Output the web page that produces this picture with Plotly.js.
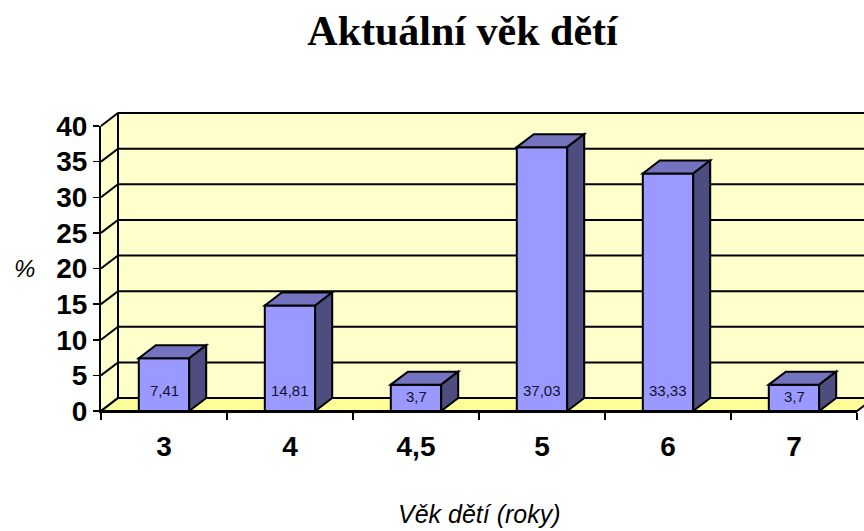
<!DOCTYPE html>
<html><head><meta charset="utf-8">
<script src="https://cdn.plot.ly/plotly-3.0.1.min.js"></script>
<style>html,body{margin:0;padding:0;background:#fff}</style>
</head><body><div id="chart" style="width:864px;height:531px"></div>
<script>
// ---- data ----
const categories = ["3", "4", "4,5", "5", "6", "7"];
const percentValues = [7.41, 14.81, 3.7, 37.03, 33.33, 3.7];
const yTickValues = [0, 5, 10, 15, 20, 25, 30, 35, 40];
const titleText = "Aktuální věk dětí";
const xAxisTitle = "Věk dětí (roky)";
const yAxisTitle = "%";

// ---- layout constants (style) ----
const W = 864, H = 531;
const M = {l: 101, r: 7, t: 126, b: 120};
const PW = W - M.l - M.r, PH = H - M.t - M.b;
const YMAX = 40;
const DX = 17, DY = 13;               // 3D depth in px
const BAR_W = 0.4;
const pxPerCat = PW / categories.length;
const pxPerUnit = PH / YMAX;
const hw = BAR_W / 2 * pxPerCat;
const DYu = DY / pxPerUnit;            // depth in data units (y)
const xIdx = categories.map((c, i) => i);

const shapes = [];
const blackLine = {color: '#000', width: 2};
// left side wall
shapes.push({type: 'path', xref: 'paper', yref: 'paper', xsizemode: 'pixel', ysizemode: 'pixel',
  xanchor: 0, yanchor: 0, layer: 'below', fillcolor: '#ffffcc', line: {width: 0},
  path: `M0,0 L${DX},${DY} L${DX},${PH + DY} L0,${PH} Z`});
// back wall
shapes.push({type: 'path', xref: 'paper', yref: 'paper', xsizemode: 'pixel', ysizemode: 'pixel',
  xanchor: 0, yanchor: 0, layer: 'below', fillcolor: '#ffffcc', line: {width: 0},
  path: `M${DX},${DY} L${PW + 200},${DY} L${PW + 200},${PH + DY} L${DX},${PH + DY} Z`});
// floor
shapes.push({type: 'path', xref: 'paper', yref: 'paper', xsizemode: 'pixel', ysizemode: 'pixel',
  xanchor: 0, yanchor: 0, layer: 'below', fillcolor: '#ffff99', line: blackLine,
  path: `M0,0 L${DX},${DY} L${PW + DX},${DY} L${PW},0 Z`});
// gridlines (left wall diagonal + back wall horizontal)
yTickValues.forEach(v => {
  shapes.push({type: 'path', xref: 'paper', yref: 'paper', xsizemode: 'pixel', ysizemode: 'pixel',
    xanchor: 0, yanchor: v / YMAX, layer: 'below', fillcolor: 'rgba(0,0,0,0)', line: blackLine,
    path: `M0,0 L${DX},${DY} L${PW + 200},${DY}`});
});
// back corner line
shapes.push({type: 'path', xref: 'paper', yref: 'paper', xsizemode: 'pixel', ysizemode: 'pixel',
  xanchor: 0, yanchor: 0, layer: 'below', fillcolor: 'rgba(0,0,0,0)', line: blackLine,
  path: `M${DX},${DY} L${DX},${PH + DY}`});

// bar top & side faces
percentValues.forEach((v, i) => {
  shapes.push({type: 'path', xref: 'x', yref: 'y', xsizemode: 'pixel', xanchor: i, layer: 'above',
    fillcolor: '#7373bf', line: blackLine,
    path: `M${-hw},${v} L${-hw + DX},${v + DYu} L${hw + DX},${v + DYu} L${hw},${v} Z`});
  shapes.push({type: 'path', xref: 'x', yref: 'y', xsizemode: 'pixel', xanchor: i, layer: 'above',
    fillcolor: '#4d4d80', line: blackLine,
    path: `M${hw},0 L${hw + DX},${DYu} L${hw + DX},${v + DYu} L${hw},${v} Z`});
});

const annotations = [];
percentValues.forEach((v, i) => {
  annotations.push({x: i, y: 0, xref: 'x', yref: 'y', showarrow: false,
    text: String(v).replace('.', ','), yanchor: 'middle', xanchor: 'center',
    yshift: Math.min(21, v * pxPerUnit / 2 + 1),
    font: {family: 'Liberation Sans, Arial, sans-serif', size: 15, color: '#111133'}});
});
annotations.push({xref: 'paper', yref: 'paper', x: 0.5, y: 0, yshift: -103, showarrow: false,
  xanchor: 'center', yanchor: 'middle', text: xAxisTitle,
  font: {family: 'Liberation Sans, Arial, sans-serif', size: 25, style: 'italic', color: '#000'}});
annotations.push({xref: 'paper', yref: 'paper', x: 0, xshift: -77, y: 0.5, showarrow: false,
  xanchor: 'center', yanchor: 'middle', text: yAxisTitle,
  font: {family: 'Liberation Sans, Arial, sans-serif', size: 24, style: 'italic', color: '#000'}});

const trace = {
  type: 'bar', x: xIdx, y: percentValues, width: BAR_W,
  marker: {color: '#9999ff', line: {color: '#000', width: 2}},
  hoverinfo: 'skip'
};

const layout = {
  width: W, height: H, margin: M,
  paper_bgcolor: '#fff', plot_bgcolor: 'rgba(0,0,0,0)',
  showlegend: false,
  title: {text: '<b>' + titleText + '</b>', xref: 'container', yref: 'container',
    x: 462.5 / W, y: 1 - 30 / H, xanchor: 'center', yanchor: 'middle',
    font: {family: 'Liberation Serif, Times New Roman, serif', size: 42, color: '#000'}},
  xaxis: {
    type: 'linear', range: [-0.5, categories.length - 0.5],
    tickmode: 'array', tickvals: xIdx, ticktext: categories, ticks: '',
    ticklabelstandoff: 9,
    tickfont: {family: 'Liberation Sans, Arial, sans-serif', size: 28, weight: 'bold', color: '#000'},
    showline: true, linecolor: '#000', linewidth: 2,
    showgrid: false, zeroline: false, fixedrange: true,
    minor: {tickmode: 'linear', tick0: -0.5, dtick: 1, ticks: 'outside', ticklen: 7,
      tickwidth: 1.5, tickcolor: '#000', showgrid: false}
  },
  yaxis: {
    range: [0, YMAX], tickmode: 'array', tickvals: yTickValues,
    ticks: 'outside', ticklen: 6, tickwidth: 1.5, tickcolor: '#000',
    tickfont: {family: 'Liberation Sans, Arial, sans-serif', size: 28, weight: 'bold', color: '#000'},
    showline: true, linecolor: '#000', linewidth: 2,
    showgrid: false, zeroline: false, fixedrange: true
  },
  shapes: shapes,
  annotations: annotations
};

Plotly.newPlot('chart', [trace], layout, {displayModeBar: false, staticPlot: true});
</script></body></html>
